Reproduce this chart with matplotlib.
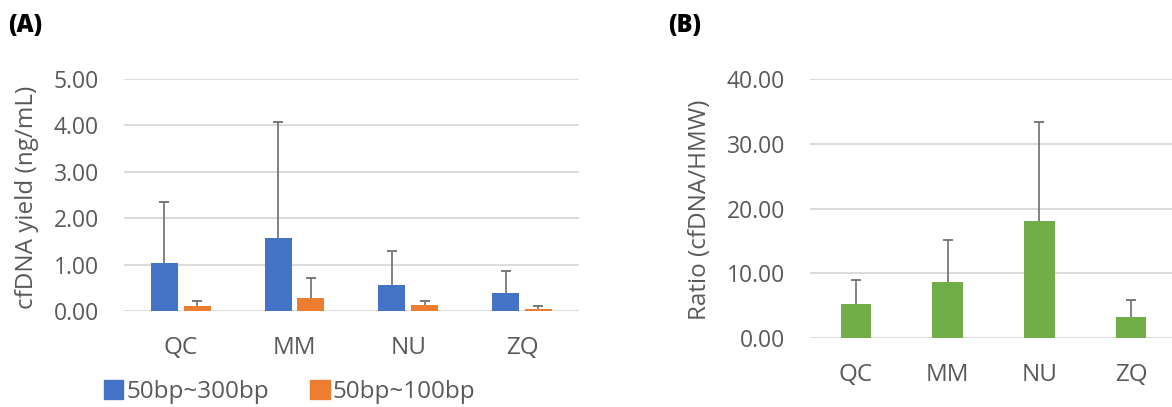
import matplotlib
matplotlib.use("Agg")
import matplotlib.pyplot as plt
import numpy as np
from matplotlib.patches import Patch

# ---- data ----
categories = ["QC", "MM", "NU", "ZQ"]
yield_300 = [1.03, 1.57, 0.55, 0.38]
yield_300_err = [1.32, 2.50, 0.75, 0.49]
yield_100 = [0.11, 0.28, 0.14, 0.04]
yield_100_err = [0.11, 0.43, 0.08, 0.06]
ratio = [5.3, 8.7, 18.1, 3.2]
ratio_err = [3.7, 6.5, 15.2, 2.7]
series_labels = ["50bp~300bp", "50bp~100bp"]
yticks_a = [0, 1, 2, 3, 4, 5]
yticks_b = [0, 10, 20, 30, 40]

plt.rcParams['font.family'] = ['Open Sans', 'DejaVu Sans']
TXT = "#595959"
GRID = "#D9D9D9"
BLUE = "#4472C4"
ORANGE = "#ED7D31"
GREEN = "#70AD47"
ERR = "#6E6E6E"

W, H = 1172, 407
fig = plt.figure(figsize=(W / 100, H / 100), dpi=100)

def style(ax, yticks, fmt):
    ax.set_yticks(yticks)
    ax.set_yticklabels([fmt.format(v) for v in yticks])
    ax.set_ylim(yticks[0], yticks[-1])
    ax.grid(axis='y', color=GRID, lw=1.3)
    ax.set_axisbelow(True)
    for s in ax.spines.values():
        s.set_visible(False)
    ax.tick_params(length=0, colors=TXT)
    ax.tick_params(axis='y', pad=18, labelsize=16.5)
    ax.tick_params(axis='x', pad=18, labelsize=17.5)
    ax.set_xticks(np.arange(len(categories)))
    ax.set_xticklabels(categories)
    ax.set_xlim(-0.5, len(categories) - 0.5)

def upper_err(ax, xs, means, errs):
    means = np.asarray(means)
    tops = means + np.asarray(errs)
    ax.vlines(xs, means, tops, color=ERR, lw=1.2, zorder=3)
    ax.plot(xs, tops, linestyle='none', marker='_', markersize=7,
            markeredgewidth=1.3, color=ERR, zorder=3)

# ---- panel A ----
axA = fig.add_axes([124 / W, 1 - 311 / H, 455 / W, 232 / H])
x = np.arange(len(categories))
w = 0.237
xb = x - 0.145
xo = x + 0.143
axA.bar(xb, yield_300, w, color=BLUE, zorder=2)
axA.bar(xo, yield_100, w, color=ORANGE, zorder=2)
upper_err(axA, xb, yield_300, yield_300_err)
upper_err(axA, xo, yield_100, yield_100_err)
style(axA, yticks_a, "{:.2f}")
axA.set_ylabel("cfDNA yield (ng/mL)", fontsize=17.5, color=TXT)
axA.yaxis.set_label_coords(-0.187, 0.49)

handles = [Patch(color=BLUE), Patch(color=ORANGE)]
fig.legend(handles, series_labels, loc='center left',
           bbox_to_anchor=(104 / W, 1 - 392 / H), ncol=2, frameon=False,
           fontsize=17.5, labelcolor=TXT, handlelength=0.8, handleheight=0.8,
           handletextpad=0.12, columnspacing=1.7, borderpad=0, borderaxespad=0)

# ---- panel B ----
axB = fig.add_axes([810 / W, 1 - 338 / H, 367 / W, 259 / H])
axB.bar(x, ratio, 0.33, color=GREEN, zorder=2)
upper_err(axB, x, ratio, ratio_err)
style(axB, yticks_b, "{:.2f}")
axB.set_ylabel("Ratio (cfDNA/HMW)", fontsize=17.5, color=TXT)
axB.yaxis.set_label_coords(-0.267, 0.494)

fig.text(8 / W, 1 - 25 / H, "(A)", fontsize=17, fontweight='heavy',
         va='center', ha='left', color='black')
fig.text(668 / W, 1 - 25 / H, "(B)", fontsize=17, fontweight='heavy',
         va='center', ha='left', color='black')

fig.savefig("out.png", dpi=100, facecolor='white')
